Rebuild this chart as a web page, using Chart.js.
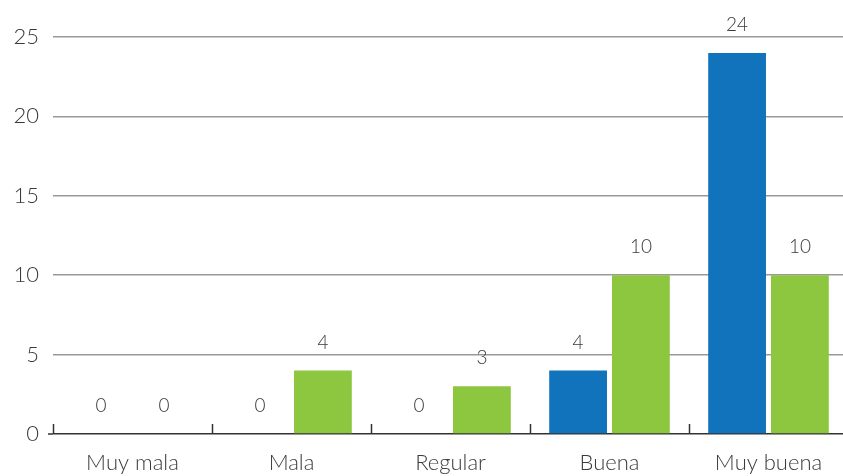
<!DOCTYPE html>
<html>
<head>
<meta charset="utf-8">
<script src="https://cdn.jsdelivr.net/npm/chart.js@4"></script>
<style>
  html, body { margin: 0; padding: 0; background: #fff; overflow: hidden; }
  #wrap { width: 848px; height: 476px; }
</style>
</head>
<body>
<div id="wrap"><canvas id="chart" width="848" height="476"></canvas></div>
<script>
const categories = ['Muy mala', 'Mala', 'Regular', 'Buena', 'Muy buena']
const blueValues = [0, 0, 0, 4, 24]
const greenValues = [0, 4, 3, 10, 10]
const yTicks = [0, 5, 10, 15, 20, 25]

const textColor = '#3a3a3a'
const fontFamily = 'Lato, "Open Sans", sans-serif'

// value labels above each bar
const valueLabels = {
  id: 'valueLabels',
  afterDatasetsDraw(chart) {
    const ctx = chart.ctx
    ctx.save()
    ctx.fillStyle = textColor
    ctx.font = '300 19px ' + fontFamily
    ctx.textAlign = 'center'
    ctx.textBaseline = 'middle'
    chart.data.datasets.forEach((ds, i) => {
      chart.getDatasetMeta(i).data.forEach((bar, j) => {
        ctx.fillText(ds.data[j], bar.x, bar.y - 28)
      })
    })
    ctx.restore()
  }
}

// zero line stub + small upward ticks between categories
const boundaryTicks = {
  id: 'boundaryTicks',
  afterDraw(chart) {
    const x = chart.scales.x
    const y0 = chart.scales.y.getPixelForValue(0)
    const half = (x.getPixelForValue(1) - x.getPixelForValue(0)) / 2
    const ctx = chart.ctx
    ctx.save()
    ctx.strokeStyle = '#333'
    ctx.lineWidth = 1.5
    ctx.beginPath()
    ctx.moveTo(chart.chartArea.left - 5, y0)
    ctx.lineTo(chart.chartArea.left, y0)
    ctx.stroke()
    for (let i = 0; i < categories.length; i++) {
      const px = Math.round(x.getPixelForValue(i) - half) + 0.5
      ctx.beginPath()
      ctx.moveTo(px, y0)
      ctx.lineTo(px, y0 - 10)
      ctx.stroke()
    }
    ctx.restore()
  }
}

const ctx = document.getElementById('chart').getContext('2d')
new Chart(ctx, {
  type: 'bar',
  data: {
    labels: categories,
    datasets: [
      { label: 'A', data: blueValues, backgroundColor: '#1173BB' },
      { label: 'B', data: greenValues, backgroundColor: '#8DC63F' }
    ]
  },
  options: {
    responsive: false,
    animation: false,
    layout: { padding: { top: 37, right: 0, left: 0, bottom: 0 } },
    plugins: { legend: { display: false }, tooltip: { enabled: false } },
    datasets: { bar: { categoryPercentage: 0.79, barPercentage: 0.92 } },
    scales: {
      x: {
        grid: { display: false },
        border: { display: false },
        ticks: { color: textColor, font: { family: fontFamily, size: 22, weight: 300 }, padding: 8 },
        afterFit: (s) => { s.height = 42 }
      },
      y: {
        min: 0,
        max: 25,
        afterBuildTicks: (s) => { s.ticks = yTicks.map(v => ({ value: v })) },
        grid: {
          drawTicks: false,
          color: (c) => c.tick && c.tick.value === 0 ? '#333' : '#999',
          lineWidth: 1.5
        },
        border: { display: false },
        ticks: { color: textColor, font: { family: fontFamily, size: 22, weight: 300 }, padding: 14 },
        afterFit: (s) => { s.width = 53 }
      }
    }
  },
  plugins: [valueLabels, boundaryTicks]
})
</script>
</body>
</html>
